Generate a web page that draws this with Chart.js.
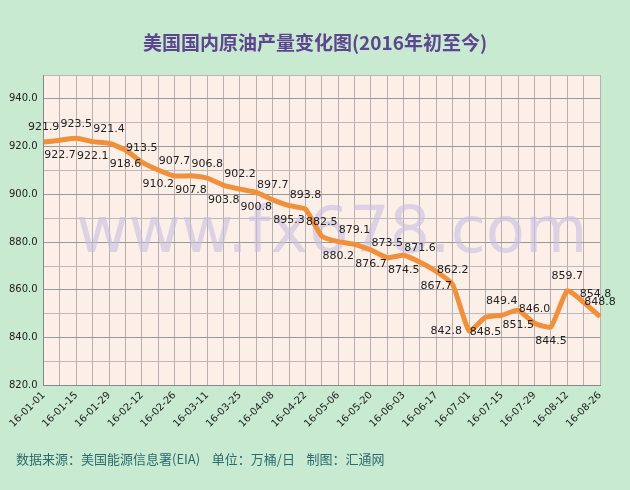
<!DOCTYPE html>
<html><head><meta charset="utf-8">
<script src="https://cdn.jsdelivr.net/npm/chart.js@4"></script>
<style>html,body{margin:0;padding:0;background:#c8ead0;}#w{width:630px;height:490px;position:relative}</style>
</head><body><div id="w"><canvas id="c" width="630" height="490"></canvas></div>
<script>
const dates=['16-01-01','16-01-08','16-01-15','16-01-22','16-01-29','16-02-05','16-02-12','16-02-19','16-02-26','16-03-04','16-03-11','16-03-18','16-03-25','16-04-01','16-04-08','16-04-15','16-04-22','16-04-29','16-05-06','16-05-13','16-05-20','16-05-27','16-06-03','16-06-10','16-06-17','16-06-24','16-07-01','16-07-08','16-07-15','16-07-22','16-07-29','16-08-05','16-08-12','16-08-19','16-08-26'];
const production=[921.9,922.7,923.5,922.1,921.4,918.6,913.5,910.2,907.7,907.8,906.8,903.8,902.2,900.8,897.7,895.3,893.8,882.5,880.2,879.1,876.7,873.5,874.5,871.6,867.7,862.2,842.8,848.5,849.4,851.5,846.0,844.5,859.7,854.8,848.8];
const yTickLabels=[820,840,860,880,900,920,940];
const titleText='美国国内原油产量变化图(2016年初至今)';
const footerText='数据来源：美国能源信息署(EIA)    单位：万桶/日    制图：汇通网';

function labelPos(i){
  if(i<=16) return i%2===0?'a':'b';
  if(i<=25) return i%2===1?'a':'b';
  if(i===26) return 'l';
  if(i===27||i===29||i===31) return 'b';
  if(i===33) return 'r';
  return 'a';
}
const deco={id:'deco',
beforeDraw(ch){const {ctx,chartArea:a}=ch;ctx.save();ctx.fillStyle='#c8ead0';ctx.fillRect(0,0,ch.width,ch.height);ctx.fillStyle='#fcefe8';ctx.fillRect(a.left,a.top,a.right-a.left,a.bottom-a.top);ctx.restore();},
beforeDatasetsDraw(ch){const {ctx,chartArea:a}=ch;ctx.save();ctx.font='64px "DejaVu Sans"';ctx.fillStyle='rgba(200,190,225,0.6)';ctx.textAlign='center';ctx.textBaseline='middle';ctx.fillText('www.fx678.com',(a.left+a.right)/2+10,235);ctx.restore();},
afterDatasetsDraw(ch){const {ctx}=ch;const m=ch.getDatasetMeta(0);ctx.save();ctx.font='11px "DejaVu Sans"';ctx.fillStyle='#222';
m.data.forEach((p,i)=>{const s=labelPos(i);const t=production[i].toFixed(1);
 if(s==='a'){ctx.textAlign='center';ctx.textBaseline='bottom';ctx.fillText(t,p.x,p.y-9);}
 else if(s==='b'){ctx.textAlign='center';ctx.textBaseline='top';ctx.fillText(t,p.x,p.y+9);}
 else if(s==='l'){ctx.textAlign='right';ctx.textBaseline='middle';ctx.fillText(t,p.x-7,p.y);}
 else {ctx.textAlign='left';ctx.textBaseline='bottom';ctx.fillText(t,p.x-4,p.y-3);}
});
ctx.textAlign='center';ctx.font='bold 19px "Noto Sans CJK SC"';ctx.fillStyle='#5e4590';ctx.textBaseline='middle';ctx.fillText(titleText,315,43);
ctx.font='13px "Noto Sans CJK SC"';ctx.fillStyle='#2c6a6e';ctx.textAlign='left';ctx.fillText(footerText,16,459);
ctx.restore();}};

new Chart(document.getElementById('c'),{type:'line',
data:{labels:dates,datasets:[{data:production,borderColor:'#f0903a',borderWidth:5,pointRadius:0,tension:0.15,fill:false}]},
options:{responsive:false,animation:false,
layout:{padding:{top:75,left:3,right:30,bottom:56}},
plugins:{legend:{display:false},tooltip:{enabled:false}},
scales:{
x:{offset:false,grid:{color:'#b8b0b0',lineWidth:1,drawTicks:false},border:{color:'#888'},
ticks:{autoSkip:false,maxRotation:45,minRotation:45,padding:4,color:'#222',font:{size:10,family:'DejaVu Sans'},callback:(v,i)=>i%2===0?dates[i]:''}},
y:{min:820,max:950,afterBuildTicks(ax){const t=[];for(let v=820;v<=950;v+=10)t.push({value:v});ax.ticks=t;},
grid:{color:(c)=>c.tick&&c.tick.value%20===0&&c.tick.value!==820?'#999':'#c0b8b8',drawTicks:false},border:{color:'#888'},
ticks:{padding:6,color:'#222',font:{size:10,family:'DejaVu Sans'},callback:(v)=>yTickLabels.includes(v)?v.toFixed(1):''}}}},
plugins:[deco]});
</script></body></html>
